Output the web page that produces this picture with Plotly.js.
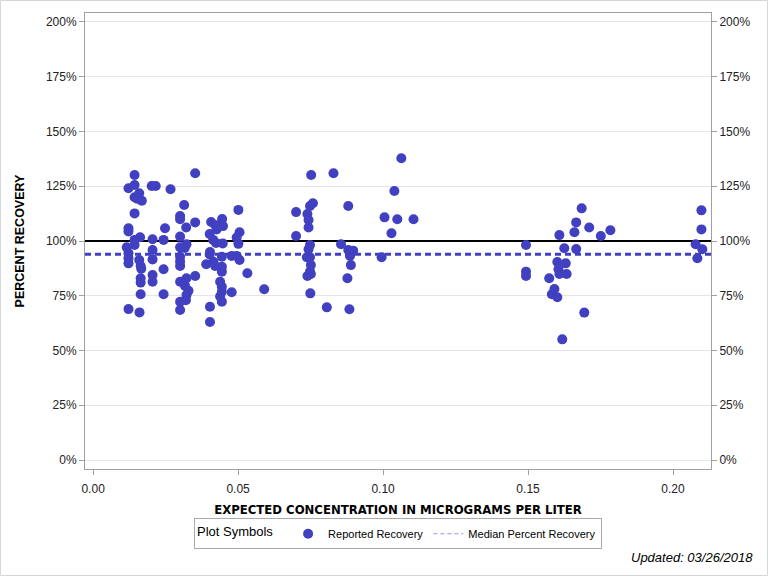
<!DOCTYPE html>
<html>
<head>
<meta charset="utf-8">
<script src="https://cdn.plot.ly/plotly-3.0.1.min.js"></script>
<style>html,body{margin:0;padding:0;background:#fff;}#chart{width:768px;height:576px;}</style>
</head>
<body>
<div id="chart"></div>
<script>
// Expected concentration (micrograms per liter)
const concentration = [
  0.0122,0.0122,0.0122,0.0116,0.0122,0.0122,0.0122,0.0122,
  0.0143,0.0143,0.0143,0.0143,0.0143,0.0143,
  0.0159,0.0152,0.0168,0.0162,0.0159,0.0164,0.0166,0.0164,0.0164,0.0164,0.0160,
  0.0202,0.0216,0.0267,0.0205,0.0205,0.0205,0.0205,0.0205,0.0248,0.0243,0.0243,0.0243,
  0.0352,0.0314,0.0300,0.0300,0.0352,0.0321,0.0300,0.0322,0.0316,0.0300,0.0300,0.0300,0.0300,
  0.0352,0.0322,0.0300,0.0317,0.0329,0.0322,0.0320,0.0300,0.0300,
  0.0407,0.0445,0.0448,0.0421,0.0426,0.0402,0.0414,0.0424,0.0447,0.0403,0.0402,0.0415,
  0.0444,0.0390,0.0421,0.0444,0.0444,0.0438,0.0444,0.0444,0.0438,0.0444,0.0403,0.0403,
  0.0501,0.0505,0.0495,0.0501,0.0478,0.0495,0.0505,0.0532,0.0478,0.0590,
  0.0752,0.0829,0.0758,0.0748,0.0700,0.0739,0.0743,0.0743,0.0880,0.0700,0.0855,0.0748,
  0.0743,0.0737,0.0748,0.0751,0.0748,0.0739,0.0751,0.0749,0.0806,0.0880,0.0897,0.0886,
  0.0889,0.0877,0.0884,
  0.1063,0.1039,0.1005,0.1049,0.1105,0.1029,0.0995,
  0.1493,0.1493,0.1493,0.1685,0.1666,0.1711,0.1660,0.1751,0.1784,0.1608,0.1625,0.1666,
  0.1601,0.1630,0.1605,0.1608,0.1633,0.1573,0.1591,0.1582,0.1601,0.1694,0.1618,
  0.2098,0.2098,0.2078,0.2101,0.2084
];
// Percent recovery
const recovery = [
  124.1,105.8,104.3,97.1,94.4,92.1,89.8,68.9,
  130.1,125.6,120.0,112.6,100.5,98.2,
  121.8,119.3,118.4,101.7,91.3,88.6,87.3,83.0,81.0,75.7,67.4,
  125.1,125.1,123.6,100.8,95.9,91.6,84.5,81.4,105.8,100.5,87.1,75.7,
  130.9,116.4,111.4,109.9,108.5,106.2,102.0,98.5,96.8,97.1,92.8,90.6,88.6,
  84.0,83.0,81.4,79.5,77.3,75.3,73.0,72.3,68.5,
  108.7,110.0,106.8,107.3,105.3,103.2,100.5,99.1,98.9,95.0,93.8,90.5,
  92.8,89.4,88.6,88.3,86.0,81.4,79.1,76.8,74.7,72.3,70.0,63.0,
  114.2,104.0,101.6,98.7,93.2,93.2,91.3,85.3,76.6,78.0,
  130.1,130.9,117.2,116.0,113.2,112.3,109.6,106.2,116.0,102.3,98.5,98.2,
  96.2,92.6,92.6,89.0,86.0,84.0,84.9,76.1,69.7,95.9,95.6,93.2,
  89.0,83.0,68.8,
  137.8,122.8,110.8,109.9,109.9,103.5,92.6,
  98.2,86.0,84.0,114.9,108.5,106.2,104.0,102.3,104.9,102.7,96.7,96.3,
  90.4,89.8,87.1,84.9,84.9,83.0,78.1,75.7,74.3,67.3,55.1,
  114.0,105.3,98.5,96.2,92.1
];
const medianRecovery = 94;
const referenceRecovery = 100;
const xRange = [-0.0028, 0.2131];
const yRange = [-4.1, 204.1];
const yTickVals = [0,25,50,75,100,125,150,175,200];
const yTickText = ['0%','25%','50%','75%','100%','125%','150%','175%','200%'];
const xTickVals = [0,0.05,0.10,0.15,0.20];
const xTickText = ['0.00','0.05','0.10','0.15','0.20'];

const blue = 'rgb(64,64,192)';
const axisGray = 'rgb(160,160,160)';
const font = 'Liberation Sans, Arial, sans-serif';

const traces = [
  {x: xRange, y: [referenceRecovery, referenceRecovery], mode: 'lines', type: 'scatter',
   line: {color: 'black', width: 2}, showlegend: false, hoverinfo: 'skip'},
  {x: xRange, y: [medianRecovery, medianRecovery], mode: 'lines', type: 'scatter',
   line: {color: blue, width: 3, dash: '6px,4px'}, showlegend: false, hoverinfo: 'skip'},
  {x: concentration, y: recovery, mode: 'markers', type: 'scatter', name: 'Reported Recovery',
   marker: {color: blue, size: 10, line: {width: 0}}},
  {x: [null], y: [null], mode: 'lines', type: 'scatter', name: 'Median Percent Recovery',
   line: {color: 'rgb(150,150,230)', width: 1, dash: '4px,3px'}},
  {x: [null], y: [null], yaxis: 'y2', mode: 'markers', showlegend: false, hoverinfo: 'skip'}
];

const tickFont = {family: font, size: 12, color: '#222'};

const layout = {
  width: 768, height: 576,
  margin: {l: 85, r: 57, t: 13, b: 107},
  paper_bgcolor: 'white', plot_bgcolor: 'white',
  font: {family: font, size: 12, color: 'black'},
  xaxis: {
    range: xRange, tickmode: 'array', tickvals: xTickVals, ticktext: xTickText,
    showgrid: false, zeroline: false,
    showline: true, linecolor: axisGray, linewidth: 1, mirror: true,
    ticks: 'outside', ticklen: 5, tickcolor: axisGray, ticklabelstandoff: 4,
    tickfont: tickFont,
    title: {text: 'EXPECTED CONCENTRATION IN MICROGRAMS PER LITER', standoff: 9,
            font: {family: 'DejaVu Sans Condensed, Liberation Sans, Arial', size: 13, weight: 'bold', color: 'black'}}
  },
  yaxis: {
    range: yRange, tickmode: 'array', tickvals: yTickVals, ticktext: yTickText,
    showgrid: true, gridcolor: 'rgb(228,228,228)', gridwidth: 1, zeroline: false,
    showline: true, linecolor: axisGray, linewidth: 1, mirror: true,
    ticks: 'outside', ticklen: 5, tickcolor: axisGray,
    tickfont: tickFont,
    title: {text: 'PERCENT RECOVERY', standoff: 18,
            font: {family: font, size: 12.5, weight: 'bold', color: 'black'}}
  },
  yaxis2: {
    range: yRange, tickmode: 'array', tickvals: yTickVals, ticktext: yTickText,
    overlaying: 'y', side: 'right',
    showgrid: false, zeroline: false, showline: false,
    ticks: 'outside', ticklen: 5, tickcolor: axisGray,
    tickfont: tickFont
  },
  legend: {
    orientation: 'h', x: 0.5, xanchor: 'center', y: -0.108, yanchor: 'top',
    bordercolor: 'rgb(170,170,170)', borderwidth: 1, bgcolor: 'white',
    font: {family: font, size: 11, color: 'black'},
    title: {text: 'Plot Symbols  ', font: {family: font, size: 13, color: 'black'}},
    tracegroupgap: 0, itemwidth: 30
  },
  annotations: [{
    text: '<i>Updated: 03/26/2018</i>', xref: 'paper', yref: 'paper',
    x: 1.0703, y: -0.193, xanchor: 'right', yanchor: 'middle', showarrow: false,
    font: {family: font, size: 13, color: 'black'}
  }],
  shapes: [{
    type: 'rect', xref: 'paper', yref: 'paper',
    x0: -0.135, x1: 1.0903, y0: -0.2336, y1: 1.0274,
    line: {color: 'rgb(215,215,215)', width: 1}, layer: 'below'
  }]
};

Plotly.newPlot('chart', traces, layout, {displayModeBar: false, staticPlot: true});
</script>
</body>
</html>
